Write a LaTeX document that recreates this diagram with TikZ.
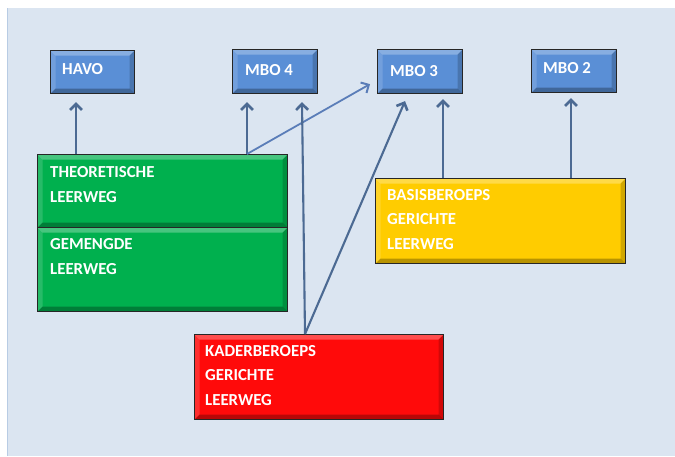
\documentclass[tikz,border=0pt]{standalone}
\usepackage{fontspec}
\setmainfont{Carlito}
\usetikzlibrary{arrows.meta}
\definecolor{bg}{HTML}{DBE5F1}
\definecolor{bgedge}{HTML}{B8CCE4}
\definecolor{bluebox}{HTML}{5A8FD6}
\definecolor{greenbox}{HTML}{00B04E}
\definecolor{yellowbox}{HTML}{FFCC00}
\definecolor{redbox}{HTML}{FF0A0A}
\definecolor{arrowcol}{HTML}{4C6A93}
\definecolor{diagcol}{HTML}{5A7DB8}
\tikzset{
  box/.style={draw=black!85, line width=1.1pt, anchor=north west, inner sep=0pt,
    path picture={
      \fill[white,opacity=0.28] (path picture bounding box.north west) -- (path picture bounding box.north east)
        -- ([xshift=-5pt,yshift=-5pt]path picture bounding box.north east) -- ([xshift=5pt,yshift=-5pt]path picture bounding box.north west) -- cycle;
      \fill[white,opacity=0.15] (path picture bounding box.north west) -- ([xshift=5pt,yshift=-5pt]path picture bounding box.north west)
        -- ([xshift=5pt,yshift=5pt]path picture bounding box.south west) -- (path picture bounding box.south west) -- cycle;
      \fill[black,opacity=0.28] (path picture bounding box.south west) -- (path picture bounding box.south east)
        -- ([xshift=-5pt,yshift=5pt]path picture bounding box.south east) -- ([xshift=5pt,yshift=5pt]path picture bounding box.south west) -- cycle;
      \fill[black,opacity=0.18] (path picture bounding box.north east) -- ([xshift=-5pt,yshift=-5pt]path picture bounding box.north east)
        -- ([xshift=-5pt,yshift=5pt]path picture bounding box.south east) -- (path picture bounding box.south east) -- cycle;
    }},
  lbl/.style={anchor=base west, inner sep=0pt, text=white, align=left,
    font=\fontsize{16.8}{24.3}\selectfont\bfseries},
  arr/.style={draw=arrowcol, line width=2.6pt, -{Straight Barb[length=6pt,width=12pt,line width=2.6pt]}},
  diag/.style={draw=diagcol, line width=1.8pt, -{Straight Barb[length=6pt,width=12pt,line width=2pt]}},
}
\begin{document}
\begin{tikzpicture}[x=1pt,y=-1pt]
\useasboundingbox (0,0) rectangle (675,456);
\fill[white] (0,0) rectangle (675,456);
\fill[bg] (7,8) rectangle (675,456);
\draw[bgedge, line width=1pt] (7.5,8) -- (7.5,456);
% top boxes
\node[box, fill=bluebox, minimum width=84pt, minimum height=43pt] (havo) at (50,50) {};
\node[box, fill=bluebox, minimum width=85pt, minimum height=44pt] (mbo4) at (232,49) {};
\node[box, fill=bluebox, minimum width=85pt, minimum height=44pt] (mbo3) at (377,49) {};
\node[box, fill=bluebox, minimum width=85pt, minimum height=43pt] (mbo2) at (531,49) {};
\node[lbl] (thavo) at (62,74.5) {HAVO};
\node[lbl] (tmbo4) at (245,75) {MBO 4};
\node[lbl] (tmbo3) at (390,76) {MBO 3};
\node[lbl] (tmbo2) at (543,73) {MBO 2};
% green boxes
\node[box, fill=greenbox, minimum width=250pt, minimum height=73pt] (green1) at (37,154) {};
\node[box, fill=greenbox, minimum width=250pt, minimum height=84pt] (green2) at (37,227) {};
\node[lbl] (tgreen1) at (50,202) {THEORETISCHE\\LEERWEG};
\node[lbl] (tgreen2) at (50,274) {GEMENGDE\\LEERWEG};
% yellow
\node[box, fill=yellowbox, minimum width=250pt, minimum height=85pt] (yellow) at (375,178) {};
\node[lbl] (tyellow) at (387,249) {BASISBEROEPS\\GERICHTE\\LEERWEG};
% red
\node[box, fill=redbox, minimum width=249pt, minimum height=85pt] (red) at (194,334) {};
\node[lbl] (tred) at (205,405) {KADERBEROEPS\\GERICHTE\\LEERWEG};
% arrows
\draw[arr] ([xshift=39pt]green1.north west) -- ([xshift=26pt,yshift=-8pt]havo.south west);
\draw[arr] ([xshift=210pt]green1.north west) -- ([xshift=15pt,yshift=-8pt]mbo4.south west);
\draw[diag] ([xshift=210pt]green1.north west) -- ([xshift=-7pt,yshift=10pt]mbo3.south west);
\draw[arr, line width=2.1pt] ([xshift=111pt]red.north west) -- ([xshift=70pt,yshift=-8pt]mbo4.south west);
\draw[arr, line width=2.1pt] ([xshift=111pt]red.north west) -- ([xshift=28pt,yshift=-7pt]mbo3.south west);
\draw[arr] ([xshift=68pt]yellow.north west) -- ([xshift=66pt,yshift=-5pt]mbo3.south west);
\draw[arr] ([xshift=196pt]yellow.north west) -- ([xshift=40pt,yshift=-5pt]mbo2.south west);
\end{tikzpicture}
\end{document}
